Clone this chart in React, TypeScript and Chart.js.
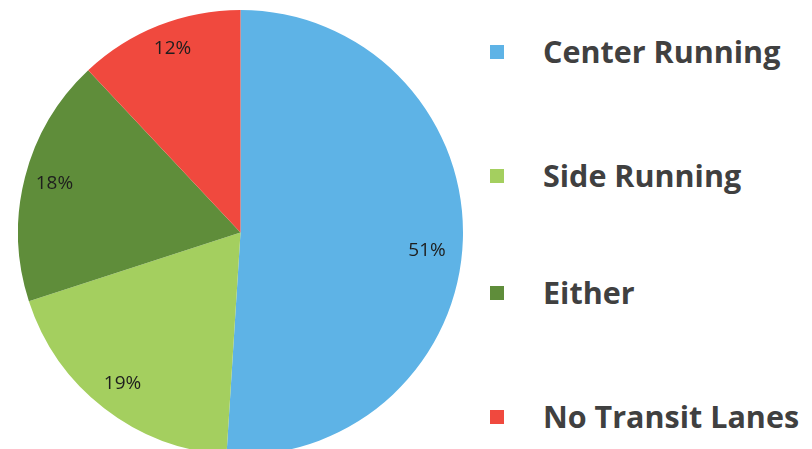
import React, { useEffect, useRef } from "react";
import { Chart, registerables } from "chart.js";

Chart.register(...registerables);

const categories = ["Center Running", "Side Running", "Either", "No Transit Lanes"];
const values = [51, 19, 18, 12];
const colors = ["#5EB3E6", "#A4CF5F", "#5F8D3A", "#F0493E"];
const labelRadius = [0.842, 0.861, 0.864, 0.88];
const labelAngleShift = [3.6, 0.2, 0.2, 1.3];
const legendTops = [51, 175, 292, 416];

const labelPlugin = {
  id: "sliceLabels",
  afterDatasetsDraw(chart: any) {
    const ctx = chart.ctx;
    const meta = chart.getDatasetMeta(0);
    ctx.save();
    ctx.font = "19px 'Open Sans'";
    ctx.fillStyle = "#1e1e1e";
    ctx.textAlign = "center";
    ctx.textBaseline = "middle";
    meta.data.forEach((arc: any, i: number) => {
      const p = arc.getProps(["x", "y", "startAngle", "endAngle", "outerRadius"], true);
      const mid = (p.startAngle + p.endAngle) / 2 + (labelAngleShift[i] * Math.PI) / 180;
      const r = p.outerRadius * labelRadius[i];
      ctx.fillText(values[i] + "%", p.x + Math.cos(mid) * r, p.y + Math.sin(mid) * r);
    });
    ctx.restore();
  },
};

export default function App() {
  const ref = useRef<HTMLCanvasElement>(null);
  useEffect(() => {
    if (!ref.current) return;
    const chart = new Chart(ref.current, {
      type: "pie",
      data: {
        labels: categories,
        datasets: [{ data: values, backgroundColor: colors, borderWidth: 0 }],
      },
      options: {
        animation: false,
        responsive: false,
        layout: { padding: 0 },
        plugins: { legend: { display: false }, tooltip: { enabled: false } },
      },
      plugins: [labelPlugin],
    });
    return () => chart.destroy();
  }, []);

  return (
    <div style={{ position: "fixed", left: 0, top: 0, width: 812, height: 449, overflow: "hidden", background: "#fff" }}>
      <canvas ref={ref} width={445} height={445} style={{ position: "absolute", left: 18, top: 10, width: 445, height: 445 }} />
      {categories.map((c, i) => (
        <div key={c} style={{ position: "absolute", left: 490, top: legendTops[i] - 30, height: 60, display: "flex", alignItems: "center" }}>
          <div style={{ width: 14, height: 14, background: colors[i], marginTop: 2 }} />
          <div style={{ marginLeft: 39, fontFamily: "'Open Sans'", fontWeight: 700, fontSize: 30.5, color: "#404040", whiteSpace: "nowrap" }}>{c}</div>
        </div>
      ))}
    </div>
  );
}
